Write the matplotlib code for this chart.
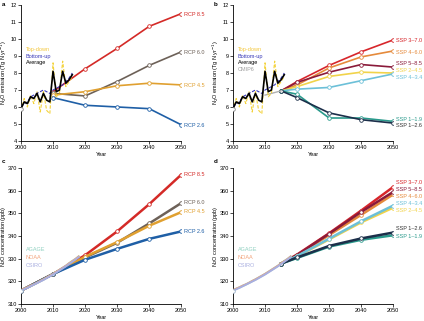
import matplotlib
matplotlib.use("Agg")
import matplotlib.pyplot as plt
import numpy as np

plt.rcParams['font.family'] = ['Liberation Sans', 'DejaVu Sans']
plt.rcParams['font.size'] = 4

# ---- observations (emission) ----
obsYears = list(range(2000, 2017))
topDown = [5.8, 6.5, 6.0, 6.7, 6.2, 6.9, 5.7, 6.9, 5.8, 5.6, 8.6, 6.6, 6.8, 8.7, 7.2, 7.5, 7.8]
bottomUp = [6.0, 6.2, 6.3, 6.6, 6.7, 6.8, 6.9, 7.0, 6.9, 6.8, 7.0, 7.1, 7.2, 7.3, 7.5, 7.7, 8.0]
average = [5.9, 6.3, 6.2, 6.6, 6.5, 6.8, 6.3, 6.8, 6.4, 6.3, 8.1, 6.9, 7.0, 8.1, 7.4, 7.6, 7.9]
cmipYears = [2010, 2011, 2012, 2013, 2014, 2015]
cmip6 = [6.7, 6.75, 6.8, 6.85, 6.9, 6.95]

# ---- RCP emission ----
rcpYears = [2010, 2020, 2030, 2040, 2050]
rcpNames = ['RCP 8.5', 'RCP 6.0', 'RCP 4.5', 'RCP 2.6']
rcpColors = ['#d42a27', '#6d6158', '#e0a030', '#1f5fa6']
rcpEmis = [[6.9, 8.25, 9.45, 10.75, 11.5],
           [6.8, 6.65, 7.5, 8.45, 9.25],
           [6.7, 6.9, 7.25, 7.4, 7.3],
           [6.55, 6.1, 6.0, 5.9, 4.95]]
rcpEmisLabelY = [11.45, 9.22, 7.28, 4.92]

# ---- SSP emission ----
sspYears = [2015, 2020, 2030, 2040, 2050]
sspNames = ['SSP 3\u20137.0', 'SSP 4\u20136.0', 'SSP 5\u20138.5', 'SSP 2\u20134.5', 'SSP 4\u20133.4', 'SSP 1\u20131.9', 'SSP 1\u20132.6']
sspColors = ['#d7262b', '#e58a3c', '#8a1a3a', '#f1d34a', '#6cc0d8', '#2a9a8c', '#1c2f4a']
sspTextColors = ['#d7262b', '#e58a3c', '#8a1a3a', '#f1d34a', '#6cc0d8', '#2a9a8c', '#333333']
sspEmis = [[6.95, 7.5, 8.45, 9.25, 9.95],
           [6.95, 7.3, 8.3, 8.95, 9.3],
           [6.95, 7.45, 8.05, 8.5, 8.35],
           [6.95, 7.2, 7.8, 8.05, 8.0],
           [6.95, 7.05, 7.15, 7.55, 7.95],
           [6.95, 6.75, 5.35, 5.35, 5.15],
           [6.95, 6.55, 5.65, 5.25, 5.05]]
sspEmisLabelY = [9.94, 9.22, 8.59, 8.14, 7.71, 5.29, 4.88]

# ---- observations (concentration) ----
concYears = list(range(2000, 2019))
agage = [316.0, 316.7, 317.3, 318.0, 318.6, 319.3, 320.1, 320.8, 321.6, 322.4, 323.2, 324.1, 325.0, 325.9, 326.8, 327.9, 328.9, 329.8, 330.9]
noaa = [316.2, 316.8, 317.4, 318.1, 318.7, 319.4, 320.2, 320.9, 321.7, 322.5, 323.3, 324.2, 325.1, 326.0, 326.9, 328.0, 328.9, 329.9, 331.0]
csiro = [315.8, 316.5, 317.1, 317.8, 318.5, 319.2, 319.9, 320.6, 321.4, 322.2, 323.0, 323.9, 324.8, 325.7, 326.6, 327.6, 328.6, 329.6, 330.6]

rcpConcYears = [2000, 2010, 2020, 2030, 2040, 2050]
rcpConc = [[315.9, 323.2, 331.5, 342.0, 354.0, 367.0],
           [315.9, 323.2, 330.5, 337.0, 345.5, 354.5],
           [315.9, 323.2, 330.8, 337.3, 344.5, 350.5],
           [315.9, 323.2, 329.5, 334.3, 338.7, 342.0]]
rcpConcLabelY = [367.0, 354.6, 350.9, 341.9]

sspConcYears = [2015, 2020, 2030, 2040, 2050]
sspConc = [[327.8, 331.8, 341.2, 351.2, 361.6],
           [327.8, 331.4, 340.4, 349.3, 358.3],
           [327.8, 331.6, 341.0, 350.6, 359.4],
           [327.8, 331.0, 338.5, 346.0, 352.5],
           [327.8, 331.1, 338.8, 346.5, 353.4],
           [327.8, 330.3, 335.3, 338.3, 340.3],
           [327.8, 330.5, 335.6, 338.9, 341.5]]
sspConcLabelY = [363.7, 357.4, 360.4, 351.0, 354.3, 339.9, 343.1]

obsColors = {'AGAGE': '#8fd0c0', 'NOAA': '#f2a27a', 'CSIRO': '#a8aee0'}


def style(ax, ylo, yhi, ystep):
    ax.spines['top'].set_visible(False)
    ax.spines['right'].set_visible(False)
    ax.spines['left'].set_linewidth(0.6)
    ax.spines['bottom'].set_linewidth(0.6)
    ax.set_xlim(2000, 2050)
    ax.set_ylim(ylo, yhi)
    ax.set_xticks(range(2000, 2051, 10))
    ax.set_yticks(np.arange(ylo, yhi + 0.1, ystep))
    ax.tick_params(length=2, width=0.5, pad=1.0, labelsize=4)
    ax.set_xlabel('Year', fontsize=4, labelpad=1.5)


def line(ax, x, y, c, lw=1.2, z=2):
    ax.plot(x, y, color=c, lw=lw, marker='o', ms=2.6, mfc='white', mec=c, mew=0.6, zorder=z)


fig = plt.figure(figsize=(4.24, 3.21), dpi=100)
axA = fig.add_axes([0.0495, 0.561, 0.378, 0.423])
axB = fig.add_axes([0.5495, 0.561, 0.378, 0.423])
axC = fig.add_axes([0.0495, 0.053, 0.378, 0.424])
axD = fig.add_axes([0.5495, 0.053, 0.378, 0.424])

# panel a
for i in range(len(rcpNames)):
    line(axA, rcpYears, rcpEmis[i], rcpColors[i])
    axA.text(2051, rcpEmisLabelY[i], rcpNames[i], color=rcpColors[i], va='center', fontsize=4)
# panel b
axB.plot(cmipYears, cmip6, color='#b0b0b0', lw=1.0, zorder=3)
for i in range(len(sspNames)):
    line(axB, sspYears, sspEmis[i], sspColors[i])
    axB.text(2051, sspEmisLabelY[i], sspNames[i], color=sspTextColors[i], va='center', fontsize=4)

for ax in (axA, axB):
    ax.plot(obsYears, topDown, color='#f3d23a', lw=0.8, ls=(0, (3, 1.5)), zorder=4)
    ax.plot(obsYears, bottomUp, color='#3a3ab8', lw=0.8, ls=(0, (3, 1.5)), zorder=4)
    ax.plot(obsYears, average, color='black', lw=1.2, zorder=5)
    ax.plot([2000], [average[0]], 'o', ms=2.6, mfc='white', mec='#888888', mew=0.6, zorder=6)
    style(ax, 4, 12, 1)
    ax.set_ylabel('N$_2$O emission (Tg N yr$^{-1}$)', fontsize=4)
    ax.yaxis.set_label_coords(-0.075, 0.5)
    ax.text(2001.5, 9.4, 'Top-down', color='#f3c63a', fontsize=4, va='center')
    ax.text(2001.5, 9.0, 'Bottom-up', color='#3a3ab8', fontsize=4, va='center')
    ax.text(2001.5, 8.6, 'Average', color='black', fontsize=4, va='center')
axB.text(2001.5, 8.2, 'CMIP6', color='#a0a0a0', fontsize=4, va='center')

# panel c and d
for i in range(len(rcpNames)):
    line(axC, rcpConcYears, rcpConc[i], rcpColors[i], lw=1.8)
    axC.text(2051, rcpConcLabelY[i], rcpNames[i], color=rcpColors[i], va='center', fontsize=4)
for i in range(len(sspNames)):
    line(axD, sspConcYears, sspConc[i], sspColors[i], lw=1.8)
    axD.text(2051, sspConcLabelY[i], sspNames[i], color=sspTextColors[i], va='center', fontsize=4)

for ax in (axC, axD):
    ax.plot(concYears, agage, color=obsColors['AGAGE'], lw=1.6, zorder=4)
    ax.plot(concYears, noaa, color=obsColors['NOAA'], lw=1.2, zorder=4)
    ax.plot(concYears, csiro, color=obsColors['CSIRO'], lw=1.4, zorder=4)
    ax.plot([2000], [315.9], 'o', ms=2.6, mfc='white', mec='#9ab0c8', mew=0.6, zorder=6)
    style(ax, 310, 370, 10)
    ax.tick_params(axis='y', pad=0.6)
    ax.set_ylabel('N$_2$O concentration (ppb)', fontsize=4)
    ax.yaxis.set_label_coords(-0.08, 0.5)
    ax.text(2001.5, 334.0, 'AGAGE', color=obsColors['AGAGE'], fontsize=4, va='center')
    ax.text(2001.5, 330.5, 'NOAA', color=obsColors['NOAA'], fontsize=4, va='center')
    ax.text(2001.5, 327.0, 'CSIRO', color=obsColors['CSIRO'], fontsize=4, va='center')

for lab, x, y in [('a', 0.005, 0.995), ('b', 0.505, 0.995), ('c', 0.005, 0.505), ('d', 0.505, 0.505)]:
    fig.text(x, y, lab, fontsize=4.5, fontweight='bold', va='top')

fig.savefig('out.png', dpi=100)
